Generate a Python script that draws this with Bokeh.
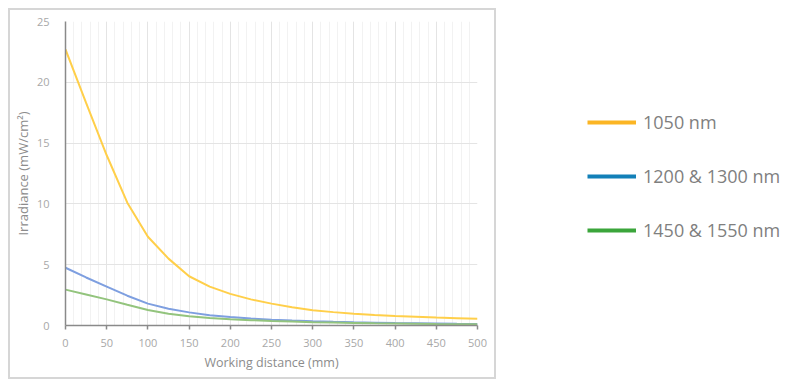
from bokeh.plotting import figure
from bokeh.layouts import row
from bokeh.models import Range1d, SingleIntervalTicker, Legend, LegendItem, ColumnDataSource
from bokeh.embed import file_html
from bokeh.resources import INLINE

# Data
distance = [0, 25, 50, 75, 100, 125, 150, 175, 200, 225, 250, 275, 300, 325, 350, 375, 400, 425, 450, 475, 500]
irr_1050 = [22.7, 18.3, 14.0, 10.1, 7.3, 5.5, 4.05, 3.2, 2.6, 2.15, 1.8, 1.5, 1.25, 1.1, 0.97, 0.87, 0.79, 0.72, 0.65, 0.6, 0.55]
irr_1200_1300 = [4.75, 3.95, 3.2, 2.45, 1.8, 1.37, 1.08, 0.85, 0.7, 0.58, 0.48, 0.41, 0.35, 0.3, 0.26, 0.23, 0.2, 0.18, 0.16, 0.14, 0.13]
irr_1450_1550 = [2.95, 2.55, 2.15, 1.7, 1.28, 0.97, 0.77, 0.62, 0.52, 0.44, 0.37, 0.32, 0.27, 0.24, 0.21, 0.18, 0.16, 0.14, 0.12, 0.11, 0.1]
series_names = ["1050 nm", "1200 & 1300 nm", "1450 & 1550 nm"]
line_colors = ["#FFCF4A", "#7E9FE0", "#93C47D"]
legend_colors = ["#FBB524", "#1380B8", "#3BA53B"]
x_ticks_interval = 50
y_ticks_interval = 5

FONT = "Open Sans"

p = figure(width=484, height=367, output_backend="svg", toolbar_location=None,
           x_range=Range1d(0, 500), y_range=Range1d(0, 25),
           min_border_left=54, min_border_right=21, min_border_top=11, min_border_bottom=56)
p.margin = (8, 0, 0, 8)
p.styles = {"border": "2px solid #d6d6d6", "box-sizing": "content-box"}
p.outline_line_color = None
p.background_fill_color = "white"
p.border_fill_color = "white"

src = ColumnDataSource(dict(x=distance, a=irr_1050, b=irr_1200_1300, c=irr_1450_1550))
for key, col in zip(["a", "b", "c"], line_colors):
    p.line("x", key, source=src, line_color=col, line_width=2)

p.xaxis.ticker = SingleIntervalTicker(interval=x_ticks_interval, num_minor_ticks=5)
p.yaxis.ticker = SingleIntervalTicker(interval=y_ticks_interval, num_minor_ticks=0)

p.xgrid.grid_line_color = "#e4e4e4"
p.xgrid.minor_grid_line_color = "#f2f2f2"
p.ygrid.grid_line_color = "#e4e4e4"

for ax in (p.xaxis[0], p.yaxis[0]):
    ax.axis_line_color = "#8a8a8a"
    ax.axis_line_width = 1.5
    ax.major_label_text_font = FONT
    ax.major_label_text_font_size = "11px"
    ax.major_label_text_color = "#a8a8a8"
    ax.axis_label_text_font = FONT
    ax.axis_label_text_color = "#8c8c8c"
    ax.axis_label_text_font_style = "normal"
    ax.minor_tick_line_color = None

p.xaxis.axis_label = "Working distance (mm)"
p.xaxis.axis_label_text_font_size = "12.5px"
p.xaxis.major_tick_line_color = "#8a8a8a"
p.xaxis.major_tick_line_width = 1.5
p.xaxis.major_tick_out = 4
p.xaxis.major_tick_in = 0
p.xaxis.major_label_standoff = 9
p.xaxis.axis_label_standoff = 4

p.yaxis.axis_label = "Irradiance (mW/cm²)"
p.yaxis.axis_label_text_font_size = "13px"
p.yaxis.major_tick_line_color = None
p.yaxis.major_tick_out = 0
p.yaxis.major_tick_in = 0
p.yaxis.major_label_standoff = 16
p.yaxis.axis_label_standoff = 2

# Legend panel: a figure without axes whose frame is the whole canvas
p2 = figure(width=285, height=365, output_backend="svg", toolbar_location=None,
            x_axis_type=None, y_axis_type=None,
            x_range=Range1d(1000, 1001), y_range=Range1d(1000, 1001),
            min_border_left=0, min_border_right=0, min_border_top=0, min_border_bottom=0)
p2.grid.visible = False
p2.outline_line_color = None
items = []
for key, name, col in zip(["a", "b", "c"], series_names, legend_colors):
    r = p2.line("x", key, source=src, line_color=col, line_width=4)
    items.append(LegendItem(label=name, renderers=[r]))
leg = Legend(items=items, location=(91, 67), orientation="vertical",
             glyph_width=49, glyph_height=24, label_height=24, spacing=30,
             label_standoff=7, padding=0, margin=0,
             border_line_color=None, background_fill_alpha=0,
             label_text_font=FONT, label_text_font_size="18px", label_text_color="#7f7f7f")
p2.add_layout(leg, "center")

layout = row(p, p2)
open("out.html", "w").write(file_html(layout, INLINE))
